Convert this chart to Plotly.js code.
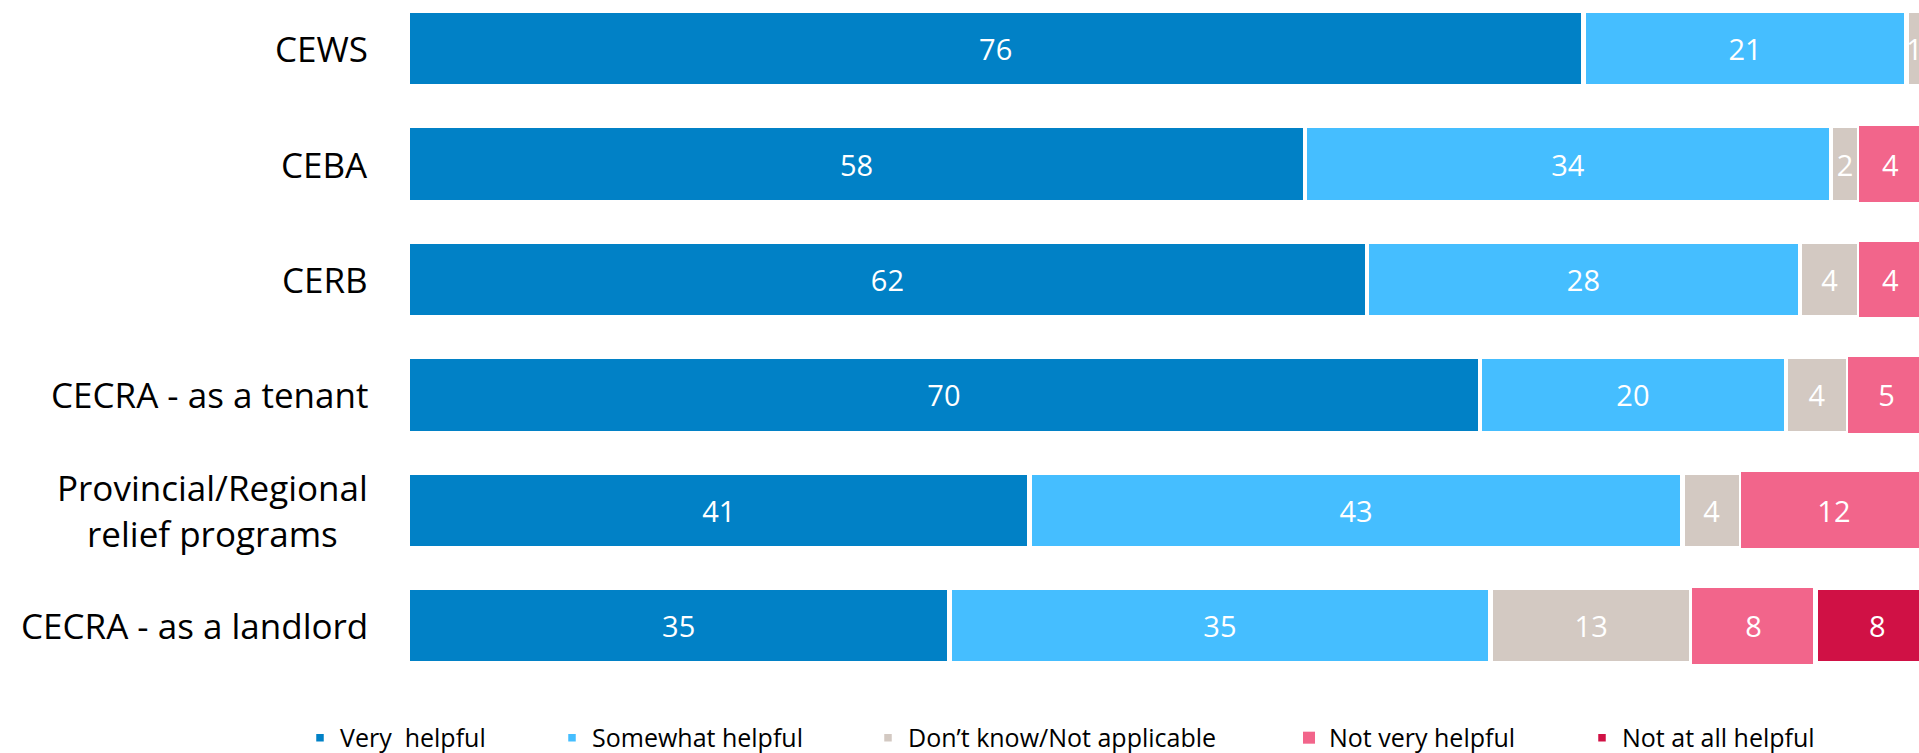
<!DOCTYPE html>
<html>
<head>
<meta charset="utf-8">
<script src="https://cdn.plot.ly/plotly-3.0.1.min.js"></script>
<style>html,body{margin:0;padding:0;background:#fff;}#chart{width:1919px;height:753px;}</style>
</head>
<body>
<div id="chart"></div>
<script>
// Categories (top to bottom)
const categories = ['CEWS', 'CEBA', 'CERB', 'CECRA - as a tenant', 'Provincial/Regional<br>relief programs', 'CECRA - as a landlord'];

// Bar lengths
const veryHelpful     = [76, 58, 62, 69.3, 40.2, 35];
const somewhatHelpful = [20.9, 34, 28, 19.8, 42.2, 35];
const dontKnow        = [1, 1.85, 3.85, 4, 3.8, 13];
const notVeryHelpful  = [null, 4, 4, 5, 12, 8];
const notAtAllHelpful = [null, null, null, null, null, 8];

// Printed data labels
const veryLabels     = ['76', '58', '62', '70', '41', '35'];
const somewhatLabels = ['21', '34', '28', '20', '43', '35'];
const dontKnowLabels = ['1', '2', '4', '4', '4', '13'];
const notVeryLabels  = ['', '4', '4', '5', '12', '8'];
const notAtAllLabels = ['', '', '', '', '', '8'];

const seriesNames = ['Very\u00a0 helpful', 'Somewhat helpful', 'Don\u2019t know/Not applicable', 'Not very helpful', 'Not at all helpful'];
const seriesColors = ['#0181C6', '#45BEFF', '#D3C9C2', '#F2658B', '#D01145'];

const FONT = 'Open Sans, Noto Sans, sans-serif';
const series = [veryHelpful, somewhatHelpful, dontKnow, notVeryHelpful, notAtAllHelpful];
const labels = [veryLabels, somewhatLabels, dontKnowLabels, notVeryLabels, notAtAllLabels];
const legendIds = ['legend', 'legend2', 'legend3', 'legend4', 'legend5'];
const legendX = [300, 552, 868, 1289, 1582];

const traces = series.map((vals, i) => ({
  type: 'bar',
  orientation: 'h',
  name: seriesNames[i],
  y: categories,
  x: vals,
  text: labels[i],
  textposition: 'inside',
  insidetextanchor: 'middle',
  textangle: 0,
  constraintext: 'none',
  textfont: {family: FONT, size: 29, color: '#ffffff'},
  marker: {color: seriesColors[i], line: {color: i === 3 ? seriesColors[i] : '#ffffff', width: i === 3 ? 0 : 4.5}},
  width: 0.658,
  hoverinfo: 'skip',
  legend: legendIds[i]
}));

const layout = {
  width: 1919,
  height: 753,
  margin: {l: 408, r: 0, t: 0, b: 63},
  paper_bgcolor: '#ffffff',
  plot_bgcolor: '#ffffff',
  barmode: 'stack',
  bargap: 0,
  showlegend: true,
  font: {family: FONT, color: '#000000'},
  xaxis: {range: [0, 97.7], showgrid: false, zeroline: false, showticklabels: false, showline: false, fixedrange: true},
  yaxis: {type: 'category', categoryorder: 'array', categoryarray: categories, range: [5.557, -0.422],
          showgrid: false, zeroline: false, showticklabels: false, showline: false, fixedrange: true},
  annotations: categories.map(c => ({
    text: c, xref: 'paper', yref: 'y', x: -0.0254, y: c, xanchor: 'right', yanchor: 'middle',
    align: 'center', showarrow: false, font: {family: FONT, size: 35, color: '#000000'}
  }))
};

legendIds.forEach((id, i) => {
  layout[id] = {
    xref: 'container', yref: 'container', x: legendX[i] / 1919, y: 0.02,
    xanchor: 'left', yanchor: 'middle', orientation: 'h', bgcolor: 'rgba(0,0,0,0)',
    borderwidth: 0, font: {family: FONT, size: 25, color: '#000000'}
  };
});

Plotly.newPlot('chart', traces, layout, {displayModeBar: false, staticPlot: true});
</script>
</body>
</html>
